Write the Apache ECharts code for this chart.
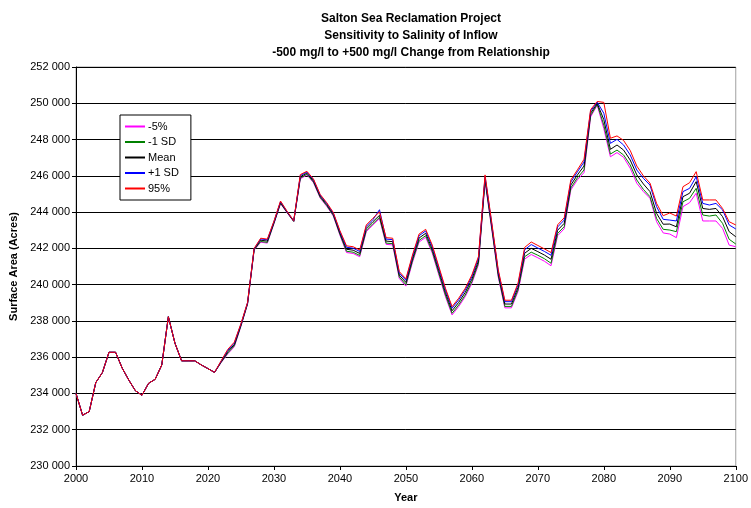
<!DOCTYPE html>
<html>
<head>
<meta charset="utf-8">
<script src="https://cdn.jsdelivr.net/npm/echarts@6/dist/echarts.min.js"></script>
<style>
  html, body { margin: 0; padding: 0; background: #fff; }
  #chart { width: 751px; height: 508px; }
</style>
</head>
<body>
<div id="chart"></div>
<script>
// years 2000..2100, one value per year
var startYear = 2000;

var seriesNames = ['-5%', '-1 SD', 'Mean', '+1 SD', '95%'];
var seriesColors = ['#ff00ff', '#008000', '#000000', '#0000ff', '#ff0000'];

var pct5 = [
  234000, 232800, 233000, 234600, 235150, 236270, 236270, 235400, 234740, 234150,
  233900, 234560, 234780, 235570, 238230, 236770, 235800, 235800, 235800, 235570,
  235370, 235160, 235700, 236180, 236580, 237700, 238920, 241900, 242340, 242290,
  243350, 244460, 243960, 243480, 245830, 246050, 245620, 244780, 244320, 243780,
  242730, 241770, 241720, 241540, 242920, 243290, 243640, 242220, 242190, 240340,
  239920, 241230, 242350, 242610, 241740, 240530, 239340, 238330, 238790, 239340,
  240070, 241100, 245680, 243090, 240420, 238720, 238720, 239620, 241410, 241660,
  241480, 241290, 241040, 242700, 243080, 245220, 245780, 246180, 249250, 249900,
  248600, 247050, 247280, 247020, 246420, 245590, 245130, 244760, 243470, 242850,
  242790, 242590, 244300, 244520, 245040, 243510, 243510, 243510, 243100, 242180,
  242090
];

var sdMinus = [
  234000, 232800, 233000, 234600, 235150, 236270, 236270, 235400, 234740, 234150,
  233900, 234560, 234780, 235570, 238230, 236770, 235800, 235800, 235800, 235570,
  235370, 235160, 235720, 236230, 236630, 237730, 238940, 241920, 242380, 242330,
  243380, 244490, 243980, 243490, 245880, 246090, 245660, 244820, 244360, 243820,
  242780, 241840, 241790, 241610, 242990, 243360, 243710, 242290, 242260, 240420,
  240000, 241310, 242440, 242700, 241830, 240620, 239430, 238420, 238880, 239430,
  240160, 241190, 245750, 243170, 240500, 238800, 238800, 239710, 241540, 241790,
  241620, 241430, 241180, 242820, 243200, 245330, 245890, 246320, 249330, 249940,
  248800, 247200, 247420, 247150, 246600, 245770, 245250, 244850, 243650, 243050,
  243010, 242920, 244570, 244760, 245310, 243840, 243780, 243840, 243380, 242500,
  242240
];

var mean = [
  234000, 232800, 233000, 234600, 235150, 236270, 236270, 235400, 234740, 234150,
  233900, 234560, 234780, 235570, 238230, 236770, 235800, 235800, 235800, 235570,
  235370, 235160, 235750, 236300, 236700, 237770, 238970, 241950, 242450, 242400,
  243420, 244530, 244000, 243500, 245950, 246150, 245720, 244880, 244420, 243880,
  242850, 241950, 241900, 241720, 243100, 243470, 243820, 242400, 242370, 240530,
  240120, 241430, 242570, 242830, 241960, 240760, 239570, 238560, 239020, 239570,
  240300, 241320, 245860, 243280, 240620, 238930, 238930, 239850, 241730, 242000,
  241820, 241630, 241400, 243000, 243380, 245490, 246050, 246540, 249450, 250000,
  249100, 247460, 247700, 247420, 246870, 246050, 245550, 245130, 243930, 243330,
  243340, 243190, 244850, 245040, 245680, 244200, 244150, 244200, 243750, 242920,
  242640
];

var sdPlus = [
  234000, 232800, 233000, 234600, 235150, 236270, 236270, 235400, 234740, 234150,
  233900, 234560, 234780, 235570, 238230, 236770, 235800, 235800, 235800, 235570,
  235370, 235160, 235780, 236380, 236780, 237820, 239000, 241980, 242520, 242470,
  243470, 244580, 244020, 243520, 246020, 246210, 245780, 244940, 244480, 243940,
  242930, 242060, 242010, 241830, 243210, 243580, 244130, 242510, 242480, 240640,
  240240, 241550, 242700, 242960, 242090, 240900, 239710, 238700, 239160, 239710,
  240440, 241460, 245970, 243390, 240740, 239060, 239060, 239990, 241920, 242210,
  242020, 241830, 241620, 243180, 243560, 245660, 246220, 246760, 249570, 250060,
  249450, 247790, 248010, 247700, 247150, 246320, 245860, 245490, 244300, 243600,
  243560, 243510, 245130, 245310, 245950, 244480, 244390, 244480, 244120, 243290,
  243070
];

var pct95 = [
  234000, 232800, 233000, 234600, 235150, 236270, 236270, 235400, 234740, 234150,
  233900, 234560, 234780, 235570, 238230, 236770, 235800, 235800, 235800, 235570,
  235370, 235160, 235800, 236430, 236830, 237850, 239020, 242000, 242560, 242510,
  243500, 244610, 244040, 243530, 246070, 246250, 245820, 244980, 244520, 243980,
  242980, 242140, 242090, 241910, 243290, 243660, 244010, 242590, 242560, 240720,
  240320, 241630, 242790, 243050, 242180, 240990, 239800, 238790, 239250, 239800,
  240530, 241550, 246050, 243470, 240820, 239140, 239140, 240080, 242050, 242350,
  242160, 241970, 241770, 243300, 243690, 245770, 246330, 246910, 249650, 250100,
  250050, 248070, 248200, 247950, 247400, 246540, 246000, 245600, 244480, 243800,
  243950, 243780, 245400, 245620, 246230, 244670, 244670, 244670, 244200, 243470,
  243290
];

var allValues = [pct5, sdMinus, mean, sdPlus, pct95];

function toPairs(values) {
  return values.map(function (v, i) { return [startYear + i, v]; });
}

// 252000 -> "252 000"
function spaced(v) {
  return String(v).replace(/\B(?=(\d{3})+(?!\d))/g, ' ');
}

var font = "'Liberation Sans', Arial, sans-serif";

var chart = echarts.init(document.getElementById('chart'), null, { renderer: 'canvas' });

chart.setOption({
  animation: false,
  backgroundColor: '#fff',
  textStyle: { fontFamily: font, color: '#000' },
  title: {
    text: 'Salton Sea Reclamation Project\nSensitivity to Salinity of Inflow\n-500 mg/l to +500 mg/l Change from Relationship',
    left: 406,
    textAlign: 'center',
    top: 5,
    textStyle: { fontFamily: font, fontSize: 12, fontWeight: 'bold', lineHeight: 17, color: '#000' }
  },
  legend: {
    orient: 'vertical',
    left: 120,
    top: 115,
    padding: [6, 12, 6, 5],
    itemGap: 4.5,
    itemWidth: 20,
    itemHeight: 2,
    icon: 'rect',
    backgroundColor: '#fff',
    borderColor: '#000',
    borderWidth: 1,
    borderRadius: 0,
    textStyle: { fontFamily: font, fontSize: 11, color: '#000', padding: [0, 0, 0, -2] },
    data: seriesNames
  },
  grid: {
    left: 76,
    right: 13,
    top: 67,
    bottom: 42,
    show: true,
    borderColor: '#a0a0a0',
    borderWidth: 1
  },
  xAxis: {
    type: 'value',
    min: 2000,
    max: 2100,
    interval: 10,
    name: 'Year',
    nameLocation: 'middle',
    nameGap: 26,
    nameTextStyle: { fontFamily: font, fontSize: 11, fontWeight: 'bold', color: '#000' },
    axisLine: { show: true, lineStyle: { color: '#000', width: 1 } },
    axisTick: { show: true, length: 4, lineStyle: { color: '#000' } },
    axisLabel: { fontFamily: font, fontSize: 11, color: '#000', margin: 7, formatter: function (v) { return String(v); } },
    splitLine: { show: false }
  },
  yAxis: {
    type: 'value',
    min: 230000,
    max: 252000,
    interval: 2000,
    name: 'Surface Area (Acres)',
    nameLocation: 'middle',
    nameGap: 50,
    nameRotate: 90,
    nameTextStyle: { fontFamily: font, fontSize: 11, fontWeight: 'bold', color: '#000' },
    axisLine: { show: true, lineStyle: { color: '#000', width: 1 } },
    axisTick: { show: true, length: 4, lineStyle: { color: '#000' } },
    axisLabel: { fontFamily: font, fontSize: 11, color: '#000', margin: 6, formatter: spaced },
    splitLine: { show: true, lineStyle: { color: '#000', width: 1 } }
  },
  series: allValues.map(function (vals, k) {
    return {
      name: seriesNames[k],
      type: 'line',
      data: toPairs(vals),
      symbol: 'none',
      showSymbol: false,
      lineStyle: { color: seriesColors[k], width: 1 },
      itemStyle: { color: seriesColors[k] },
      z: 2 + k
    };
  })
});
</script>
</body>
</html>
